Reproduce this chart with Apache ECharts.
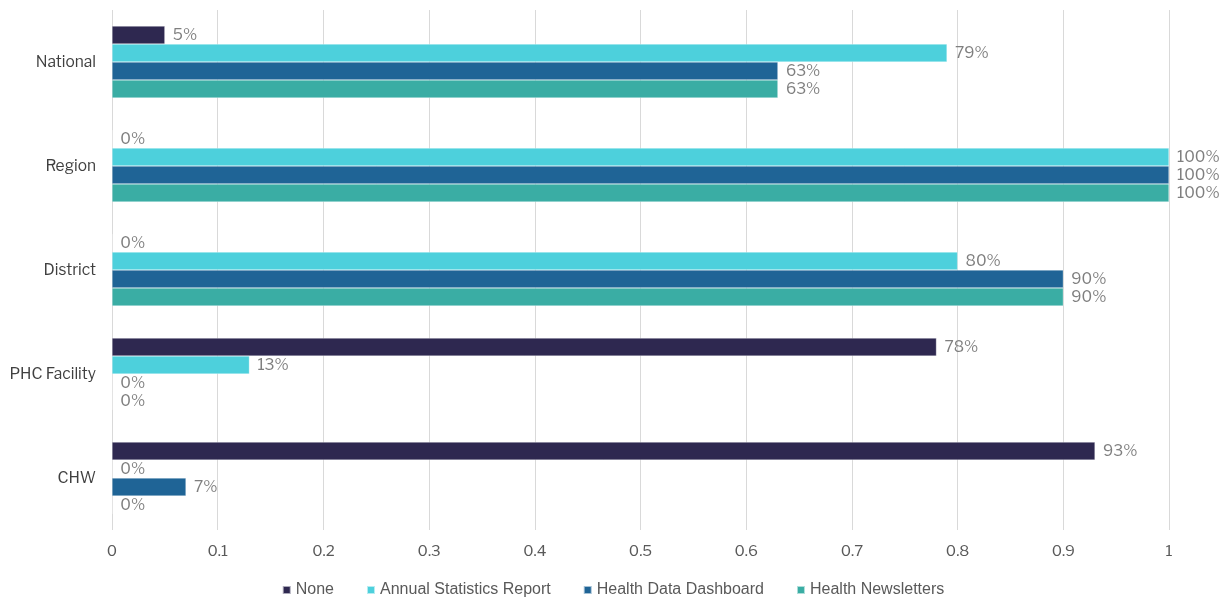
<!DOCTYPE html>
<html><head><meta charset="utf-8">
<script src="https://cdn.jsdelivr.net/npm/echarts@6/dist/echarts.min.js"></script>
<style>html,body{margin:0;padding:0;background:#fff}#c{width:1226px;height:598px}</style>
</head><body><div id="c"></div>
<script>
const categories = ["National", "Region", "District", "PHC Facility", "CHW"];
const seriesNames = ["None", "Annual Statistics Report", "Health Data Dashboard", "Health Newsletters"];
const noneVals = [0.05, 0, 0, 0.78, 0.93];
const annualVals = [0.79, 1.00, 0.80, 0.13, 0];
const dashboardVals = [0.63, 1.00, 0.90, 0, 0.07];
const newsletterVals = [0.63, 1.00, 0.90, 0, 0];
const xTicks = [0, 0.1, 0.2, 0.3, 0.4, 0.5, 0.6, 0.7, 0.8, 0.9, 1];
const colors = ["#2E2850", "#4DD0DC", "#1F6496", "#3AADA4"];
const allVals = [noneVals, annualVals, dashboardVals, newsletterVals];

const chart = echarts.init(document.getElementById('c'));
const font = "'Libre Franklin', Lato, 'Open Sans', sans-serif";
chart.setOption({
  animation: false,
  color: colors,
  grid: { left: 112, right: 57, top: 10, bottom: 68, containLabel: false },
  legend: {
    top: 577, left: 'center', itemWidth: 8, itemHeight: 8, itemGap: 32,
    icon: 'rect',
    textStyle: { fontFamily: "'Liberation Sans Narrow', 'Liberation Sans', sans-serif", fontSize: 16, color: '#595959' },
    data: seriesNames
  },
  xAxis: {
    type: 'value', min: 0, max: 1, interval: 0.1,
    axisLine: { show: false }, axisTick: { show: false },
    splitLine: { lineStyle: { color: '#D9D9D9', width: 1 } },
    axisLabel: { color: '#595959', fontSize: 15, fontFamily: font, margin: 14,
      formatter: v => { const t = xTicks.find(x => Math.abs(x - v) < 1e-9); return t === undefined ? '' : String(t); } }
  },
  yAxis: {
    type: 'category', data: categories, inverse: true,
    axisLine: { show: false }, axisTick: { show: false },
    axisLabel: { color: '#404040', fontSize: 15.5, fontFamily: font, margin: 16 }
  },
  series: seriesNames.map((n, i) => ({
    name: n, type: 'bar', data: allVals[i],
    barGap: '0%', barCategoryGap: '31%',
    itemStyle: { color: colors[i], borderColor: 'rgba(255,255,255,0.6)', borderWidth: 0.5 },
    label: { show: true, position: 'right', distance: 8, color: '#7F7F7F', fontSize: 15.5, fontFamily: font,
      formatter: p => Math.round(p.value * 100) + '%' }
  }))
});
</script></body></html>
